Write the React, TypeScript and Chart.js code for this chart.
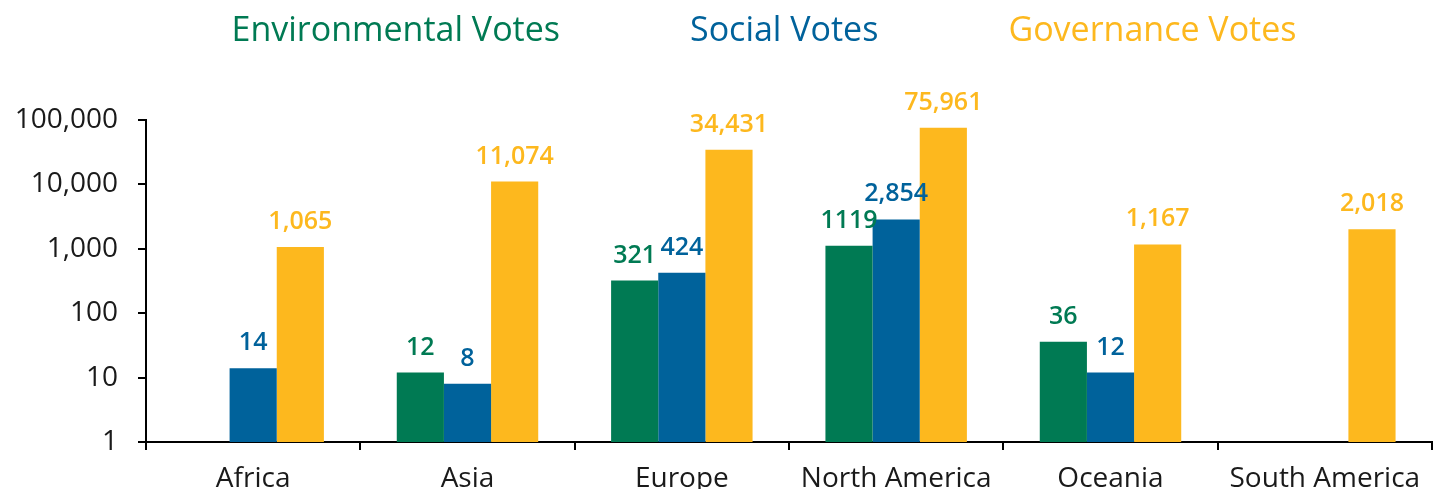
import React, { useEffect, useRef } from 'react';
import { Chart, registerables } from 'chart.js';

Chart.register(...registerables);

const regions = ['Africa', 'Asia', 'Europe', 'North America', 'Oceania', 'South America'];
const environmentalVotes: (number | null)[] = [null, 12, 321, 1119, 36, null];
const socialVotes: (number | null)[] = [14, 8, 424, 2854, 12, null];
const governanceVotes: (number | null)[] = [1065, 11074, 34431, 75961, 1167, 2018];
const yTickValues = [1, 10, 100, 1000, 10000, 100000];
const seriesNames = ['Environmental Votes', 'Social Votes', 'Governance Votes'];
const seriesColors = ['#007A53', '#00629B', '#FDB81E'];

const FONT = "'Open Sans', sans-serif";

const fmtComma = (v: number) => v.toLocaleString('en-US');
const fmtPlain = (v: number) => String(v);
const labelFormats = [fmtPlain, fmtComma, fmtComma];

const TOP_PAD = -20;

const dataLabelPlugin = {
  id: 'dataLabels',
  afterDatasetsDraw(chart: any) {
    const ctx = chart.ctx;
    ctx.save();
    ctx.font = `600 25px ${FONT}`;
    ctx.textAlign = 'center';
    ctx.textBaseline = 'alphabetic';
    chart.data.datasets.forEach((ds: any, i: number) => {
      const meta = chart.getDatasetMeta(i);
      meta.data.forEach((el: any, j: number) => {
        const v = ds.data[j];
        if (v === null || v === undefined) return;
        ctx.fillStyle = ds.backgroundColor;
        ctx.fillText(labelFormats[i](v), el.x, el.y - 18);
      });
    });
    ctx.restore();
  },
};

const legendSpacePlugin = {
  id: 'legendSpace',
  afterInit(chart: any) {
    const legend = chart.legend;
    if (!legend) return;
    const origFit = legend.fit;
    legend.fit = function () {
      origFit.call(this);
      this.height = 120 - TOP_PAD;
    };
  },
};

export default function App() {
  const ref = useRef<HTMLCanvasElement>(null);
  useEffect(() => {
    document.body.style.margin = '0';
    const canvas = ref.current!;
    const datasets = [environmentalVotes, socialVotes, governanceVotes].map((d, i) => ({
      label: seriesNames[i],
      data: d,
      backgroundColor: seriesColors[i],
      borderWidth: 0,
      barPercentage: 1,
      categoryPercentage: 0.66,
    }));
    const chart = new Chart(canvas, {
      type: 'bar',
      data: { labels: regions, datasets },
      plugins: [dataLabelPlugin, legendSpacePlugin],
      options: {
        responsive: false,
        animation: false,
        devicePixelRatio: 1,
        layout: { padding: { left: 0, right: 8, top: TOP_PAD, bottom: 0 } },
        plugins: {
          tooltip: { enabled: false },
          legend: {
            display: true,
            position: 'top',
            onClick: () => {},
            labels: {
              boxWidth: 79,
              boxHeight: 2,
              padding: 34,
              font: { family: FONT, size: 34, weight: '500' },
              generateLabels: (c: any) =>
                c.data.datasets.map((ds: any, i: number) => ({
                  text: ds.label,
                  fillStyle: 'rgba(0,0,0,0)',
                  strokeStyle: 'rgba(0,0,0,0)',
                  lineWidth: 0,
                  fontColor: seriesColors[i],
                  hidden: false,
                  datasetIndex: i,
                })),
            },
          },
        },
        scales: {
          x: {
            offset: true,
            grid: {
              offset: true,
              drawOnChartArea: false,
              drawTicks: true,
              tickLength: 8,
              color: '#000',
              lineWidth: 2,
            },
            border: { display: true, color: '#000', width: 2 },
            ticks: {
              color: '#1a1a1a',
              padding: 12,
              font: { family: FONT, size: 28 },
              maxRotation: 0,
              autoSkip: false,
            },
            afterFit: (s: any) => {
              s.height = 47;
            },
          },
          y: {
            type: 'logarithmic',
            min: 1,
            max: 100000,
            grid: {
              drawOnChartArea: false,
              drawTicks: true,
              tickLength: 8,
              color: '#000',
              lineWidth: 2,
            },
            border: { display: true, color: '#000', width: 2 },
            afterBuildTicks: (s: any) => {
              s.ticks = yTickValues.map((v) => ({ value: v, major: true }));
            },
            ticks: {
              color: '#1a1a1a',
              padding: 20,
              font: { family: FONT, size: 28 },
              callback: (v: any) => Number(v).toLocaleString('en-US'),
            },
            afterFit: (s: any) => {
              s.width = 146;
            },
          },
        },
      },
    } as any);
    return () => chart.destroy();
  }, []);
  return (
    <div style={{ width: 1440, height: 489, position: 'relative' }}>
      <canvas ref={ref} width={1440} height={489} style={{ display: 'block' }} />
    </div>
  );
}
